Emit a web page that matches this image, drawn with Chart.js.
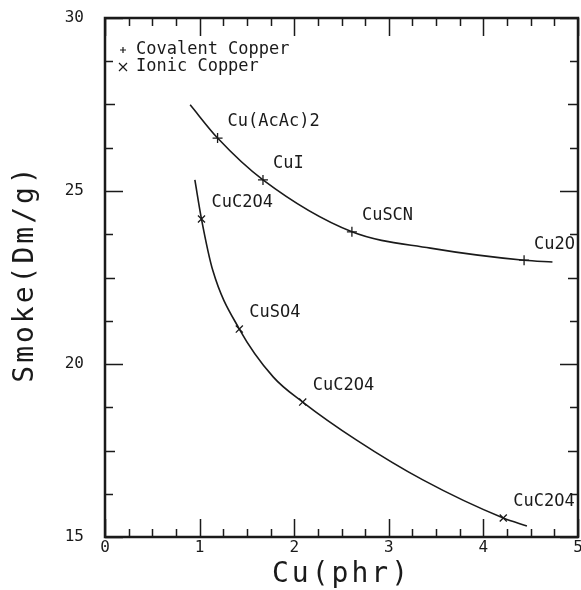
<!DOCTYPE html>
<html>
<head>
<meta charset="utf-8">
<script src="https://cdn.jsdelivr.net/npm/chart.js@4/dist/chart.umd.min.js"></script>
<style>
  html, body { margin: 0; padding: 0; background: #fff; }
  #wrap { width: 581px; height: 590px; }
</style>
</head>
<body>
<div id="wrap"><canvas id="smoke"></canvas></div>
<script>
// ------------------------------ DATA ------------------------------

const covalentX = [0.90, 1.19, 1.67, 2.61, 3.44, 4.43, 4.73];
const covalentY = [27.49, 26.53, 25.32, 23.82, 23.35, 23.00, 22.95];
const covalentNames = ['', 'Cu(AcAc)2', 'CuI', 'CuSCN', '', 'Cu2O', ''];

const ionicX = [0.95, 1.02, 1.14, 1.42, 1.78, 2.09, 2.66, 3.36, 4.21, 4.46];
const ionicY = [25.32, 24.19, 22.70, 21.01, 19.62, 18.90, 17.80, 16.65, 15.55, 15.32];
const ionicNames = ['', 'CuC2O4', '', 'CuSO4', '', 'CuC2O4', '', '', 'CuC2O4', ''];

const seriesNames = ['Covalent Copper', 'Ionic Copper'];
const xTitle = 'Cu(phr)';
const yTitle = 'Smoke(Dm/g)';

// ------------------------------ HELPERS ------------------------------

const ink = '#1a1a1a';
const mono = '"DejaVu Sans Mono", "Liberation Mono", monospace';

const toPoints = (xs, ys) => xs.map((x, i) => ({ x: x, y: ys[i] }));
const markerSizes = names => names.map(n => n ? 5 : 0);

// point labels, legend, axis titles
const annotate = {
  id: 'annotate',
  afterDatasetsDraw(chart) {
    const { ctx, chartArea: a } = chart;
    ctx.save();
    ctx.fillStyle = ink;
    ctx.strokeStyle = ink;
    ctx.font = '17px ' + mono;
    ctx.textBaseline = 'middle';
    ctx.textAlign = 'left';

    chart.data.datasets.forEach((ds, d) => {
      const meta = chart.getDatasetMeta(d);
      ds.names.forEach((name, i) => {
        if (!name) return;
        const el = meta.data[i];
        ctx.fillText(name, el.x + 10, el.y - 16);
      });
    });

    // legend in the upper left corner
    ctx.lineWidth = 1.2;
    const lx = a.left + 18;
    seriesNames.forEach((name, i) => {
      const ly = a.top + 32 + i * 17;
      ctx.beginPath();
      if (i === 0) {
        ctx.moveTo(lx - 3, ly); ctx.lineTo(lx + 3, ly);
        ctx.moveTo(lx, ly - 3); ctx.lineTo(lx, ly + 3);
      } else {
        ctx.moveTo(lx - 4, ly - 4); ctx.lineTo(lx + 4, ly + 4);
        ctx.moveTo(lx + 4, ly - 4); ctx.lineTo(lx - 4, ly + 4);
      }
      ctx.stroke();
      ctx.fillText(name, lx + 13, ly);
    });

    // axis titles
    ctx.font = '28px ' + mono;
    ctx.letterSpacing = '3px';
    ctx.textAlign = 'center';
    ctx.fillText(xTitle, (a.left + a.right) / 2, a.bottom + 38);
    ctx.translate(26, (a.top + a.bottom) / 2 - 4);
    ctx.rotate(-Math.PI / 2);
    ctx.fillText(yTitle, 0, 0);
    ctx.restore();
  }
};

// frame and inward tick marks on all four sides
const frameTicks = {
  id: 'frameTicks',
  afterDatasetsDraw(chart) {
    const { ctx, chartArea: a, scales: { x, y } } = chart;
    ctx.save();
    ctx.strokeStyle = ink;
    ctx.lineWidth = 1.5;
    ctx.beginPath();
    for (let v = 0; v <= 5.001; v += 0.25) {
      const px = Math.round(x.getPixelForValue(v)) + 0.5;
      const len = Math.abs(v - Math.round(v)) < 0.01 ? 18 : 8;
      ctx.moveTo(px, a.bottom); ctx.lineTo(px, a.bottom - len);
      ctx.moveTo(px, a.top); ctx.lineTo(px, a.top + len);
    }
    for (let v = 15; v <= 30.001; v += 1.25) {
      const py = Math.round(y.getPixelForValue(v)) + 0.5;
      const len = Math.abs(v % 5) < 0.01 ? 18 : (Math.abs(v % 2.5) < 0.01 ? 10 : 8);
      ctx.moveTo(a.left, py); ctx.lineTo(a.left + len, py);
      ctx.moveTo(a.right, py); ctx.lineTo(a.right - len, py);
    }
    ctx.stroke();
    ctx.lineWidth = 2.5;
    ctx.strokeRect(a.left, a.top, a.right - a.left, a.bottom - a.top);
    ctx.restore();
  }
};

// ------------------------------ CHART ------------------------------

const curveStyle = {
  showLine: true,
  borderColor: ink,
  borderWidth: 1.6,
  cubicInterpolationMode: 'monotone',
  pointBorderColor: ink,
  pointBorderWidth: 1.3,
  pointBackgroundColor: ink
};

new Chart(document.getElementById('smoke'), {
  type: 'scatter',
  data: {
    datasets: [
      Object.assign({
        label: seriesNames[0],
        data: toPoints(covalentX, covalentY),
        names: covalentNames,
        pointStyle: 'cross',
        pointRadius: markerSizes(covalentNames)
      }, curveStyle),
      Object.assign({
        label: seriesNames[1],
        data: toPoints(ionicX, ionicY),
        names: ionicNames,
        pointStyle: 'crossRot',
        pointRadius: markerSizes(ionicNames)
      }, curveStyle)
    ]
  },
  options: {
    responsive: true,
    maintainAspectRatio: false,
    animation: false,
    layout: { padding: { top: 18, right: 3, left: 0, bottom: 0 } },
    plugins: {
      legend: { display: false },
      tooltip: { enabled: false }
    },
    scales: {
      x: {
        type: 'linear',
        min: 0,
        max: 5,
        grid: { display: false, drawTicks: false },
        border: { display: false },
        ticks: { stepSize: 1, padding: 1, color: ink, font: { family: mono, size: 16 } },
        afterFit: scale => { scale.height = 53; scale.paddingLeft = 0; scale.paddingRight = 0; }
      },
      y: {
        type: 'linear',
        min: 15,
        max: 30,
        grid: { display: false, drawTicks: false },
        border: { display: false },
        ticks: { stepSize: 5, padding: 21, color: ink, font: { family: mono, size: 16 } },
        afterFit: scale => { scale.width = 105; scale.paddingTop = 0; scale.paddingBottom = 0; }
      }
    }
  },
  plugins: [frameTicks, annotate]
});
</script>
</body>
</html>
